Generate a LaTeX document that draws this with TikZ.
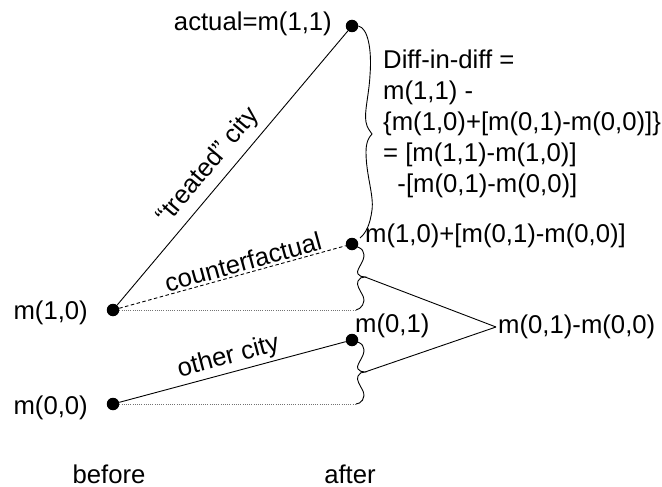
\documentclass[tikz,border=0pt]{standalone}
\usepackage{fontspec}
\setmainfont{Liberation Sans}
\begin{document}
\begin{tikzpicture}[x=1pt,y=-1pt,
  every node/.style={font=\fontsize{25.7pt}{31pt}\selectfont},
  dot/.style={circle, fill=black, inner sep=0pt, minimum size=12.5pt},
  lbl/.style={inner sep=0pt},
  seg/.style={line width=0.9pt},
  dotline/.style={line width=0.9pt, black!55, dash pattern=on 1pt off 1.2pt},
  dashline/.style={line width=0.9pt, dash pattern=on 3.5pt off 2.5pt},
  bracepath/.style={line width=0.9pt}]
\useasboundingbox (0,0) rectangle (662,487);
% dots
\node[dot] (m11) at (352,26) {};
\node[dot] (m10) at (113,310) {};
\node[dot] (cf)  at (352,244) {};
\node[dot] (m01) at (352,340) {};
\node[dot] (m00) at (113,404) {};
\coordinate (e10) at (356,310);
\coordinate (e00) at (356,404);
\coordinate (tipA) at (365,277);
\coordinate (tipB) at (365,372);
% labels
\node[lbl, anchor=east] (l11) at (332,24) {actual=m(1,1)};
\node[lbl, anchor=east] (l10) at (88,313) {m(1,0)};
\node[lbl, anchor=east] (l00) at (88,408) {m(0,0)};
\node[lbl, anchor=west] (lcf) at (365,236) {m(1,0)+[m(0,1)-m(0,0)]};
\node[lbl, anchor=west] (l01) at (355,326) {m(0,1)};
\node[anchor=west, inner sep=2pt] (ldd) at (496,327) {m(0,1)-m(0,0)};
\node[lbl, anchor=north west, align=left] (ldid) at (383,50) {Diff-in-diff =\\m(1,1) -\\\{m(1,0)+[m(0,1)-m(0,0)]\}\\= [m(1,1)-m(1,0)]\\\ \ -[m(0,1)-m(0,0)]};
\node[lbl, anchor=base] (lbefore) at (109,483) {before};
\node[lbl, anchor=base] (lafter) at (350,483) {after};
% lines
\draw[seg] (m10) -- (m11) node[sloped, pos=0.46, above=4pt, inner sep=3pt] {“treated” city};
\draw[dashline] (m10) -- (cf) node[sloped, pos=0.56, above=0pt, inner sep=2pt] {counterfactual};
\draw[seg] (m00) -- (m01) node[sloped, pos=0.5, above=0pt, inner sep=3pt] {other city};
\draw[dotline] (m10) -- (e10);
\draw[dotline] (m00) -- (e00);
% big brace
\draw[bracepath] (m11.east) .. controls (368,28) and (372,50) .. (370,75)
  .. controls (369,95) and (364,112) .. (366,122)
  .. controls (367,128) and (370,131) .. (372,134)
  .. controls (369,137) and (366,142) .. (366,152)
  .. controls (366,175) and (374,195) .. (372,210)
  .. controls (370,225) and (366,233) .. (360,238);
% small braces
\draw[bracepath] (353,246) .. controls (362,247) and (366,252) .. (363,260)
  .. controls (360,267) and (356,271) .. (358,274)
  .. controls (359,276) and (362,277) .. (tipA)
  .. controls (362,277) and (359,278) .. (358,281)
  .. controls (356,285) and (360,290) .. (363,296)
  .. controls (366,303) and (361,309) .. (e10);
\draw[bracepath] (353,341) .. controls (362,342) and (366,347) .. (363,355)
  .. controls (360,362) and (356,366) .. (358,369)
  .. controls (359,371) and (362,372) .. (tipB)
  .. controls (362,372) and (359,373) .. (358,376)
  .. controls (356,380) and (360,385) .. (363,391)
  .. controls (366,398) and (361,404) .. (e00);
% connectors to difference label
\draw[seg] (tipA) -- (ldd.west);
\draw[seg] (tipB) -- (ldd.west);
\end{tikzpicture}
\end{document}
